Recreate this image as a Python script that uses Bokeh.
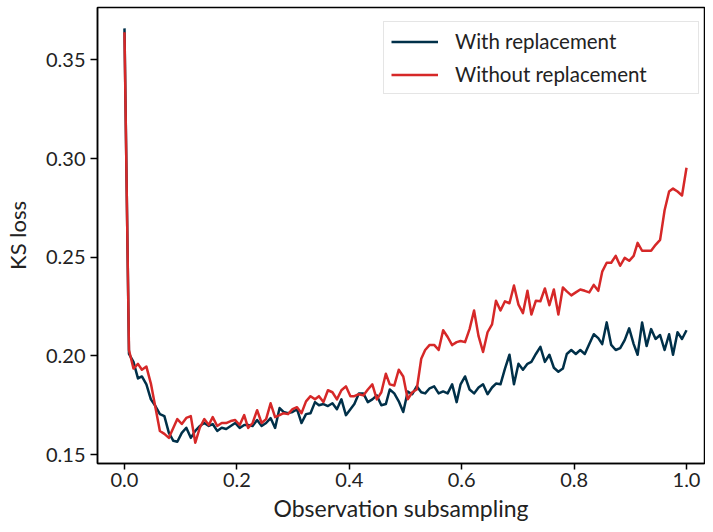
from bokeh.plotting import figure
from bokeh.models import Range1d, Legend, LegendItem, FixedTicker, NumeralTickFormatter
from bokeh.embed import file_html
from bokeh.resources import INLINE

# Observation subsampling fraction (x grid)
subsampling = [
    0.000, 0.008, 0.016, 0.024, 0.031, 0.039, 0.047, 0.055, 0.063, 0.071,
    0.079, 0.087, 0.094, 0.102, 0.110, 0.118, 0.126, 0.134, 0.142, 0.150,
    0.157, 0.165, 0.173, 0.181, 0.189, 0.197, 0.205, 0.213, 0.220, 0.228,
    0.236, 0.244, 0.252, 0.260, 0.268, 0.276, 0.283, 0.291, 0.299, 0.307,
    0.315, 0.323, 0.331, 0.339, 0.346, 0.354, 0.362, 0.370, 0.378, 0.386,
    0.394, 0.402, 0.409, 0.417, 0.425, 0.433, 0.441, 0.449, 0.457, 0.465,
    0.472, 0.480, 0.488, 0.496, 0.504, 0.512, 0.520, 0.528, 0.535, 0.543,
    0.551, 0.559, 0.567, 0.575, 0.583, 0.591, 0.598, 0.606, 0.614, 0.622,
    0.630, 0.638, 0.646, 0.654, 0.661, 0.669, 0.677, 0.685, 0.693, 0.701,
    0.709, 0.717, 0.724, 0.732, 0.740, 0.748, 0.756, 0.764, 0.772, 0.780,
    0.787, 0.795, 0.803, 0.811, 0.819, 0.827, 0.835, 0.843, 0.850, 0.858,
    0.866, 0.874, 0.882, 0.890, 0.898, 0.906, 0.913, 0.921, 0.929, 0.937,
    0.945, 0.953, 0.961, 0.969, 0.976, 0.984, 0.992, 1.000,
]

# KS loss, sampling with replacement
with_replacement = [
    0.366, 0.201, 0.197, 0.1886, 0.1896, 0.1856, 0.178, 0.1746, 0.1705, 0.1695,
    0.161, 0.157, 0.1565, 0.161, 0.1636, 0.1585, 0.162, 0.1645, 0.166, 0.1645,
    0.1655, 0.162, 0.1636, 0.163, 0.1645,
    0.166, 0.1635, 0.165, 0.165, 0.1645, 0.1675, 0.1645, 0.166, 0.1685, 0.1635,
    0.1736, 0.1716, 0.171, 0.1716, 0.173, 0.166, 0.1705, 0.171, 0.1766, 0.175,
    0.1756, 0.1746, 0.176, 0.173, 0.178, 0.170, 0.173, 0.1756,
    0.181, 0.181, 0.1766, 0.178, 0.180, 0.175, 0.1756, 0.183, 0.181, 0.177,
    0.1716, 0.182, 0.1806, 0.1846, 0.1816, 0.181, 0.1836, 0.1846, 0.181, 0.182,
    0.181, 0.1856, 0.1766, 0.1856, 0.1896, 0.183,
    0.181, 0.184, 0.1856, 0.1806, 0.184, 0.186, 0.1856, 0.1936, 0.2006, 0.1856,
    0.196, 0.193, 0.196, 0.197, 0.201, 0.2046, 0.197, 0.2006, 0.194, 0.192,
    0.1936, 0.201, 0.203, 0.201, 0.203, 0.201,
    0.2061, 0.211, 0.209, 0.206, 0.217, 0.2056, 0.203, 0.204, 0.208, 0.214,
    0.206, 0.2006, 0.217, 0.205, 0.2136, 0.2086, 0.2106, 0.203, 0.211, 0.2006,
    0.212, 0.2086, 0.213,
]

# KS loss, sampling without replacement
without_replacement = [
    0.364, 0.203, 0.1936, 0.196, 0.193, 0.1946, 0.186, 0.174, 0.162, 0.1605,
    0.1585, 0.1636, 0.168, 0.1655, 0.1686, 0.1695, 0.156, 0.1636, 0.168, 0.165,
    0.169, 0.1645, 0.166, 0.166, 0.167,
    0.1675, 0.165, 0.170, 0.1635, 0.166, 0.1725, 0.166, 0.168, 0.176, 0.169,
    0.170, 0.171, 0.1705, 0.173, 0.174, 0.171, 0.177, 0.1796, 0.178, 0.1796,
    0.1766, 0.1826, 0.1816, 0.178, 0.1826, 0.1846, 0.1796, 0.1796,
    0.1806, 0.180, 0.183, 0.1856, 0.178, 0.1816, 0.191, 0.1856, 0.185, 0.193,
    0.1896, 0.178, 0.1816, 0.183, 0.1986, 0.203, 0.2056, 0.2056, 0.203, 0.213,
    0.2096, 0.2055, 0.207, 0.2076, 0.207, 0.2136,
    0.223, 0.210, 0.202, 0.212, 0.216, 0.228, 0.223, 0.2277, 0.2267, 0.2357,
    0.226, 0.2217, 0.233, 0.221, 0.228, 0.2277, 0.2342, 0.2257, 0.2337, 0.221,
    0.2347, 0.2327, 0.2307, 0.2322, 0.2337, 0.233,
    0.2322, 0.236, 0.233, 0.2427, 0.2472, 0.2472, 0.2507, 0.2457, 0.2497, 0.2482,
    0.2507, 0.2573, 0.2533, 0.2533, 0.2533, 0.2563, 0.2588, 0.2738, 0.2833, 0.2848,
    0.2833, 0.2813, 0.2954,
]

x_ticks = [0.0, 0.2, 0.4, 0.6, 0.8, 1.0]
y_ticks = [0.15, 0.20, 0.25, 0.30, 0.35]
series_names = ["With replacement", "Without replacement"]
series_colors = ["#003049", "#d62828"]

FONT = "Lato"

p = figure(
    width=705, height=524,
    output_backend="svg", toolbar_location=None,
    x_range=Range1d(-0.048, 1.032),
    y_range=Range1d(0.14549, 0.37657),
    min_border_left=97, min_border_right=1, min_border_top=7, min_border_bottom=56,
)
p.background_fill_color = "white"
p.border_fill_color = "white"
p.outline_line_color = "black"
p.outline_line_width = 1.5
p.grid.visible = False

r1 = p.line(subsampling, with_replacement, line_color=series_colors[0], line_width=2.5, line_join="round")
r2 = p.line(subsampling, without_replacement, line_color=series_colors[1], line_width=2.5, line_join="round")

for ax in (p.xaxis[0], p.yaxis[0]):
    ax.axis_line_color = "black"
    ax.axis_line_width = 1.5
    ax.major_tick_line_color = "black"
    ax.major_tick_line_width = 1.5
    ax.major_tick_out = 7
    ax.major_tick_in = 0
    ax.minor_tick_line_color = None
    ax.major_label_text_font = FONT
    ax.major_label_text_font_size = "20px"
    ax.major_label_text_color = "#222222"
    ax.axis_label_text_font = FONT
    ax.axis_label_text_font_size = "23px"
    ax.axis_label_text_font_style = "normal"
    ax.axis_label_text_color = "#222222"

p.xaxis[0].ticker = FixedTicker(ticks=x_ticks)
p.xaxis[0].formatter = NumeralTickFormatter(format="0.0")
p.xaxis[0].axis_label = "Observation subsampling"
p.xaxis[0].major_tick_out = 6
p.xaxis[0].major_label_standoff = 3
p.xaxis[0].axis_label_standoff = 4

p.yaxis[0].ticker = FixedTicker(ticks=y_ticks)
p.yaxis[0].formatter = NumeralTickFormatter(format="0.00")
p.yaxis[0].axis_label = "KS loss"
p.yaxis[0].axis_label_text_font_size = "22px"
p.yaxis[0].major_label_standoff = 5
p.yaxis[0].axis_label_standoff = 12

legend = Legend(
    items=[LegendItem(label=series_names[0], renderers=[r1]),
           LegendItem(label=series_names[1], renderers=[r2])],
    location=(286, 369),
    margin=0,
    padding=7,
    spacing=9,
    glyph_width=47,
    glyph_height=21,
    label_height=21,
    label_width=236,
    label_standoff=17,
    label_text_font=FONT,
    label_text_font_size="20.5px",
    label_text_color="#222222",
    border_line_color="#cccccc",
    border_line_width=1,
    background_fill_color="white",
    background_fill_alpha=0.8,
)
p.add_layout(legend)

open("out.html", "w").write(file_html(p, INLINE))
